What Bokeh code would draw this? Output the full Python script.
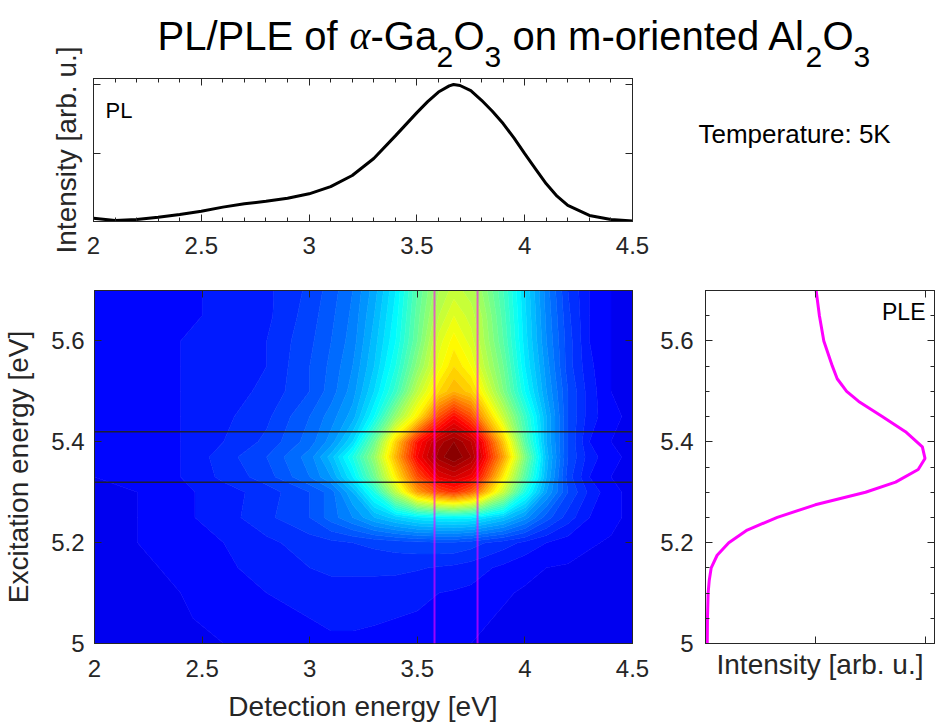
import numpy as np
from bokeh.plotting import figure
from bokeh.models import Range1d, LinearAxis, FixedTicker, Label, Span
from bokeh.layouts import column, row
from bokeh.embed import file_html
from bokeh.resources import INLINE

# ---------------- data ----------------
pl_energy = [2.0, 2.1, 2.2, 2.3, 2.4, 2.5, 2.6, 2.7, 2.8, 2.9, 3.0, 3.1, 3.2, 3.3, 3.4, 3.5,
             3.55, 3.6, 3.65, 3.67, 3.7, 3.75, 3.8, 3.85, 3.9, 3.95, 4.0, 4.05, 4.1, 4.15,
             4.2, 4.3, 4.4, 4.5]
pl_intensity = [0.024, 0.008, 0.015, 0.031, 0.051, 0.075, 0.105, 0.129, 0.148, 0.170, 0.202,
                0.255, 0.336, 0.46, 0.625, 0.795, 0.875, 0.945, 0.99, 1.0, 0.993, 0.955,
                0.885, 0.805, 0.715, 0.61, 0.495, 0.385, 0.275, 0.185, 0.117, 0.044, 0.015,
                0.003]

ple_excitation = [5.0, 5.05, 5.1, 5.125, 5.15, 5.175, 5.2, 5.225, 5.25, 5.275, 5.3, 5.32,
                  5.345, 5.367, 5.39, 5.42, 5.45, 5.48, 5.5, 5.525, 5.55, 5.6, 5.65, 5.7]
ple_intensity = [0.008, 0.009, 0.012, 0.017, 0.026, 0.053, 0.106, 0.19, 0.327, 0.5, 0.729,
                 0.866, 0.969, 1.0, 0.988, 0.911, 0.805, 0.698, 0.643, 0.6, 0.578, 0.539,
                 0.519, 0.504]

map_detection = [2.0, 2.2, 2.4, 2.6, 2.8, 3.0, 3.1, 3.2, 3.3, 3.4, 3.5, 3.6, 3.67, 3.75,
                 3.8, 3.9, 4.0, 4.1, 4.2, 4.3, 4.4, 4.5]
map_excitation = [5.0, 5.05, 5.1, 5.15, 5.2, 5.25, 5.3, 5.33, 5.37, 5.4, 5.45, 5.5, 5.55,
                  5.6, 5.65, 5.7]
map_row_500 = [0.115, 0.115, 0.115, 0.12, 0.125, 0.13, 0.135, 0.135, 0.135, 0.132, 0.13, 0.128, 0.125, 0.12, 0.118, 0.115, 0.115, 0.115, 0.115, 0.115, 0.115, 0.115]
map_row_505 = [0.115, 0.115, 0.118, 0.125, 0.135, 0.14, 0.145, 0.145, 0.142, 0.14, 0.138, 0.135, 0.13, 0.125, 0.122, 0.118, 0.115, 0.115, 0.115, 0.115, 0.115, 0.115]
map_row_510 = [0.115, 0.115, 0.12, 0.13, 0.14, 0.15, 0.15, 0.15, 0.15, 0.148, 0.145, 0.14, 0.138, 0.135, 0.13, 0.122, 0.118, 0.115, 0.115, 0.115, 0.115, 0.115]
map_row_515 = [0.115, 0.115, 0.125, 0.135, 0.15, 0.16, 0.165, 0.165, 0.165, 0.165, 0.162, 0.158, 0.155, 0.15, 0.145, 0.135, 0.125, 0.12, 0.118, 0.115, 0.115, 0.115]
map_row_520 = [0.118, 0.12, 0.127, 0.14, 0.155, 0.17, 0.175, 0.18, 0.185, 0.19, 0.195, 0.198, 0.198, 0.19, 0.182, 0.17, 0.155, 0.14, 0.13, 0.122, 0.118, 0.115]
map_row_525 = [0.12, 0.12, 0.135, 0.15, 0.175, 0.2, 0.23, 0.26, 0.3, 0.33, 0.355, 0.365, 0.37, 0.365, 0.35, 0.32, 0.27, 0.21, 0.17, 0.14, 0.125, 0.115]
map_row_530 = [0.12, 0.12, 0.135, 0.15, 0.17, 0.2, 0.23, 0.3, 0.4, 0.56, 0.72, 0.8, 0.83, 0.78, 0.72, 0.57, 0.4, 0.28, 0.2, 0.155, 0.125, 0.115]
map_row_533 = [0.12, 0.125, 0.14, 0.165, 0.19, 0.24, 0.28, 0.36, 0.48, 0.64, 0.8, 0.9, 0.92, 0.89, 0.83, 0.64, 0.46, 0.3, 0.19, 0.14, 0.12, 0.115]
map_row_537 = [0.125, 0.125, 0.14, 0.17, 0.2, 0.25, 0.31, 0.4, 0.52, 0.7, 0.88, 0.97, 1.0, 0.96, 0.9, 0.72, 0.5, 0.31, 0.2, 0.15, 0.125, 0.115]
map_row_540 = [0.125, 0.13, 0.14, 0.16, 0.185, 0.23, 0.27, 0.34, 0.48, 0.67, 0.86, 0.95, 0.98, 0.94, 0.88, 0.68, 0.46, 0.3, 0.2, 0.14, 0.12, 0.115]
map_row_545 = [0.125, 0.13, 0.14, 0.155, 0.175, 0.22, 0.25, 0.29, 0.38, 0.52, 0.64, 0.8, 0.87, 0.8, 0.72, 0.57, 0.43, 0.3, 0.2, 0.15, 0.125, 0.115]
map_row_550 = [0.125, 0.13, 0.14, 0.15, 0.165, 0.2, 0.23, 0.27, 0.34, 0.43, 0.56, 0.66, 0.70, 0.67, 0.62, 0.5, 0.38, 0.28, 0.2, 0.15, 0.12, 0.115]
map_row_555 = [0.13, 0.13, 0.14, 0.15, 0.16, 0.2, 0.225, 0.26, 0.32, 0.4, 0.51, 0.61, 0.66, 0.62, 0.57, 0.48, 0.36, 0.27, 0.19, 0.145, 0.12, 0.115]
map_row_560 = [0.13, 0.13, 0.14, 0.15, 0.16, 0.195, 0.22, 0.25, 0.31, 0.38, 0.48, 0.59, 0.63, 0.59, 0.55, 0.46, 0.35, 0.26, 0.19, 0.14, 0.12, 0.115]
map_row_565 = [0.13, 0.13, 0.135, 0.145, 0.155, 0.19, 0.215, 0.245, 0.3, 0.37, 0.47, 0.56, 0.6, 0.57, 0.54, 0.45, 0.345, 0.255, 0.185, 0.14, 0.12, 0.115]
map_row_570 = [0.13, 0.13, 0.135, 0.145, 0.155, 0.185, 0.21, 0.24, 0.29, 0.36, 0.46, 0.54, 0.57, 0.55, 0.52, 0.44, 0.34, 0.25, 0.18, 0.14, 0.12, 0.115]

det_window = [3.58, 3.78]
exc_window = [5.32, 5.42]

x_ticks = [2, 2.5, 3, 3.5, 4, 4.5]
x_tick_labels = ["2", "2.5", "3", "3.5", "4", "4.5"]
y_ticks = [5, 5.2, 5.4, 5.6]
y_tick_labels = ["5", "5.2", "5.4", "5.6"]

# ---------------- styling helpers ----------------
FONT = "Liberation Sans"
INK = "#262626"
W, H = 935, 722


def jet(v):
    r = min(max(1.5 - abs(4 * v - 3), 0.0), 1.0)
    g = min(max(1.5 - abs(4 * v - 2), 0.0), 1.0)
    b = min(max(1.5 - abs(4 * v - 1), 0.0), 1.0)
    return "#%02x%02x%02x" % (round(r * 255), round(g * 255), round(b * 255))


def style_axis(ax, ticks, minor=(), labels=None, show_labels=True):
    ax.ticker = FixedTicker(ticks=list(ticks), minor_ticks=list(minor))
    ax.axis_line_color = INK
    ax.major_tick_line_color = INK
    ax.minor_tick_line_color = INK
    ax.major_tick_in = 7
    ax.major_tick_out = 0
    ax.minor_tick_in = 4
    ax.minor_tick_out = 0
    ax.major_label_text_font = FONT
    ax.axis_label_text_font = FONT
    ax.axis_label_text_font_size = "28px"
    ax.axis_label_text_font_style = "normal"
    ax.axis_label_text_color = INK
    if show_labels:
        ax.major_label_text_font_size = "24px"
        ax.major_label_text_color = INK
        if labels is not None:
            ax.major_label_overrides = dict(zip(ticks, labels))
    else:
        ax.major_label_text_font_size = "1px"
        ax.major_label_text_color = None
        ax.major_label_standoff = 0


def base_fig(width, height, xr, yr, ml, mr, mt, mb):
    p = figure(width=width, height=height, x_range=xr, y_range=yr,
               output_backend="svg", toolbar_location=None, tools="",
               min_border_left=ml, min_border_right=mr, min_border_top=mt,
               min_border_bottom=mb)
    p.grid.visible = False
    p.outline_line_color = INK
    p.outline_line_width = 1
    p.background_fill_color = "white"
    p.border_fill_color = "white"
    return p


# ---------------- top: PL spectrum ----------------
A_H = 268
A_L, A_R, A_T, A_B = 93, 632, 78, 221
A_YMAX = 1.044
figA = base_fig(W, A_H, Range1d(2, 4.5), Range1d(0, A_YMAX), A_L, W - A_R, A_T, A_H - A_B)
minor_tenth = [round(2 + 0.1 * i, 2) for i in range(26)]
style_axis(figA.xaxis[0], x_ticks, minor_tenth, x_tick_labels)
figA.xaxis[0].major_label_standoff = 15
style_axis(figA.yaxis[0], [0, 0.5, 1], show_labels=False)
figA.yaxis[0].axis_label = "Intensity [arb. u.]"
figA.yaxis[0].axis_label_standoff = 12
topA = LinearAxis()
style_axis(topA, x_ticks, minor_tenth, show_labels=False)
figA.add_layout(topA, "above")
rightA = LinearAxis()
style_axis(rightA, [0, 0.5, 1], show_labels=False)
figA.add_layout(rightA, "right")

figA.line(pl_energy, pl_intensity, line_color="black", line_width=3)
figA.add_layout(Label(x=2 + (105 - A_L) * 2.5 / (A_R - A_L),
                      y=(A_B - 109.5) * A_YMAX / (A_B - A_T), text="PL",
                      text_font=FONT, text_font_size="22px", text_color="black",
                      text_baseline="middle", text_align="left"))

# ---------------- bottom left: PL/PLE map ----------------
B_W, B_H = 650, H - A_H
B_L, B_R, B_T, B_B = 93, 632, 290 - A_H, 643 - A_H
figB = base_fig(B_W, B_H, Range1d(2, 4.5), Range1d(5, 5.7), B_L, B_W - B_R, B_T, B_H - B_B)

z = np.array([map_row_500, map_row_505, map_row_510, map_row_515, map_row_520, map_row_525,
              map_row_530, map_row_533, map_row_537, map_row_540, map_row_545, map_row_550,
              map_row_555, map_row_560, map_row_565, map_row_570])
levels = [round(0.02 * i, 3) for i in range(53)]
band_colors = [jet((levels[i] + levels[i + 1]) / 2) for i in range(len(levels) - 1)]
level_colors = [jet(lv) for lv in levels]
figB.contour(np.array(map_detection), np.array(map_excitation), z, levels,
             fill_color=band_colors, line_color=level_colors, line_width=0.8)

for e in exc_window:
    figB.add_layout(Span(location=e, dimension="width", line_color="#202020",
                         line_width=1.5, line_alpha=0.9))
for d in det_window:
    figB.add_layout(Span(location=d, dimension="height", line_color="#ff00ff",
                         line_width=2, line_alpha=0.6))

style_axis(figB.xaxis[0], x_ticks, labels=x_tick_labels)
figB.xaxis[0].major_label_standoff = 16
style_axis(figB.yaxis[0], y_ticks, labels=y_tick_labels)
figB.yaxis[0].major_label_standoff = 10
figB.yaxis[0].axis_label = "Excitation energy [eV]"
figB.yaxis[0].axis_label_standoff = 14
topB = LinearAxis()
style_axis(topB, x_ticks, show_labels=False)
figB.add_layout(topB, "above")
rightB = LinearAxis()
style_axis(rightB, y_ticks, show_labels=False)
figB.add_layout(rightB, "right")

# ---------------- bottom right: PLE spectrum ----------------
C_W = W - B_W
C_L, C_R = 705 - B_W, 934 - B_W
C_XMAX = (C_R - C_L) / 219.5
figC = base_fig(C_W, B_H, Range1d(0, C_XMAX), Range1d(5, 5.7), C_L, C_W - C_R, B_T, B_H - B_B)
minor_twentieth = [round(5 + 0.05 * i, 2) for i in range(15)]
style_axis(figC.xaxis[0], [0, 0.5, 1], show_labels=False)
figC.xaxis[0].axis_label = "Intensity [arb. u.]"
figC.xaxis[0].axis_label_standoff = 5
style_axis(figC.yaxis[0], y_ticks, minor_twentieth, y_tick_labels)
figC.yaxis[0].major_label_standoff = 12
topC = LinearAxis()
style_axis(topC, [0, 0.5, 1], show_labels=False)
figC.add_layout(topC, "above")
rightC = LinearAxis()
style_axis(rightC, y_ticks, minor_twentieth, show_labels=False)
figC.add_layout(rightC, "right")

figC.line(ple_intensity, ple_excitation, line_color="#ff00ff", line_width=3)
figC.add_layout(Label(x=(925 - 705) / 219.5, y=5 + (643 - 311.5) / 505, text="PLE",
                      text_font=FONT, text_font_size="23px", text_color="black",
                      text_baseline="middle", text_align="right"))

# ---------------- transparent overlay (page pixels) for free texts ----------------
ov = figure(width=W, height=H, x_range=Range1d(0, W), y_range=Range1d(H, 0),
            output_backend="svg", toolbar_location=None, tools="",
            x_axis_type=None, y_axis_type=None,
            min_border_left=0, min_border_right=0, min_border_top=0, min_border_bottom=0)
ov.grid.visible = False
ov.outline_line_color = None
ov.background_fill_alpha = 0
ov.border_fill_alpha = 0


def ov_text(text, x, y_mid, size, font=FONT, style="normal", align="left", color="black"):
    ov.add_layout(Label(x=x, y=y_mid, text=text, text_font=font, text_font_size=size,
                        text_font_style=style, text_color=color,
                        text_baseline="middle", text_align=align))


# title pieces (vertical middles chosen so subscripts sit lower)
T_MID, S_MID = 35, 56
ov_text("PL/PLE of", 157, T_MID, "40px")
ov_text("\u03b1", 349, T_MID, "40px", font="Liberation Serif", style="italic")
ov_text("-Ga", 370, T_MID, "40px")
ov_text("2", 436, S_MID, "30px")
ov_text("O", 453, T_MID, "40px")
ov_text("3", 484, S_MID, "30px")
ov_text("on m-oriented Al", 512, T_MID, "40px")
ov_text("2", 805, S_MID, "30px")
ov_text("O", 822, T_MID, "40px")
ov_text("3", 853, S_MID, "30px")

ov_text("Temperature: 5K", 698, 133, "26px")
ov_text("Detection energy [eV]", (B_L + B_R) / 2, 706, "28px", align="center", color=INK)

main = column(figA, row(figB, figC))
ov_wrap = column(ov, margin=(-H, 0, 0, 0))
layout = column(main, ov_wrap)
open("out.html", "w").write(file_html(layout, INLINE))
